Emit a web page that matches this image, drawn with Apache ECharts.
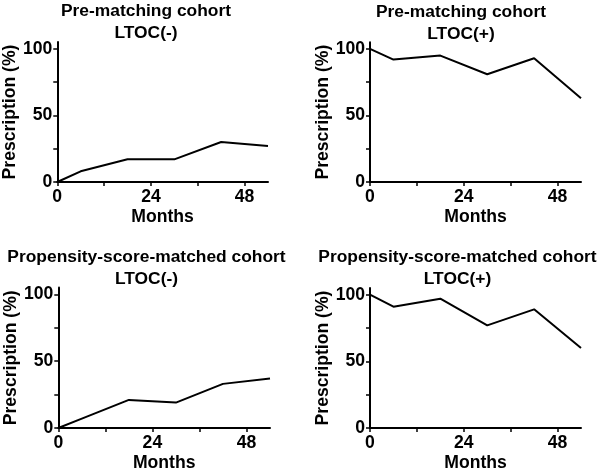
<!DOCTYPE html>
<html>
<head>
<meta charset="utf-8">
<script src="https://cdn.jsdelivr.net/npm/echarts@6/dist/echarts.min.js"></script>
<style>
html,body{margin:0;padding:0;background:#fff;}
#chart{width:600px;height:473px;}
</style>
</head>
<body>
<div id="chart"></div>
<script>
var months = [0, 6, 18, 30, 42, 54];
var preNeg = [0, 8, 17, 17, 30, 27];
var prePos = [100, 92, 95, 81, 93, 63];
var psmNeg = [0, 7, 21, 19, 33, 37];
var psmPos = [100, 91, 97, 77, 89, 60];

var panelTitles = [
  'Pre-matching cohort\nLTOC(-)',
  'Pre-matching cohort\nLTOC(+)',
  'Propensity-score-matched cohort\nLTOC(-)',
  'Propensity-score-matched cohort\nLTOC(+)'
];
var panelSeries = [preNeg, prePos, psmNeg, psmPos];
var xTicks = [0, 12, 24, 36, 48];
var xLabels = [0, 24, 48];
var yTicks = [0, 25, 50, 75, 100];
var yLabels = [0, 50, 100];
var xName = 'Months';
var yName = 'Prescription (%)';

var FONT = "'Liberation Sans', Arial, sans-serif";
var FS = 17.6;
var TFS = 17.4;

var grids = [
  {left: 57, top: 42, width: 211, height: 140},
  {left: 370, top: 42.3, width: 211, height: 139.7},
  {left: 58.3, top: 287.6, width: 211.7, height: 141.1},
  {left: 370, top: 288, width: 211, height: 141.3}
];
var titlePos = [
  {x: 146, y: 0},
  {x: 461, y: 1},
  {x: 146.5, y: 246.5},
  {x: 457.5, y: 246.5}
];

var option = {
  animation: false,
  backgroundColor: '#fff',
  title: panelTitles.map(function (t, i) {
    return {
      text: t,
      left: titlePos[i].x,
      top: titlePos[i].y,
      padding: 0,
      textAlign: 'center',
      textStyle: {fontFamily: FONT, fontWeight: 'bold', fontSize: TFS, lineHeight: 22, color: '#000'}
    };
  }),
  grid: grids,
  xAxis: grids.map(function (g, i) {
    return {
      type: 'value', gridIndex: i, min: 0, max: 54,
      name: xName, nameLocation: 'middle', nameGap: 26,
      nameTextStyle: {fontFamily: FONT, fontWeight: 'bold', fontSize: FS, color: '#000'},
      axisLine: {show: true, lineStyle: {color: '#000', width: 2}},
      axisTick: {show: true, length: 4, customValues: xTicks, lineStyle: {color: '#000', width: 1.5}},
      axisLabel: {customValues: xLabels, margin: 6, fontFamily: FONT, fontWeight: 'bold', fontSize: FS, color: '#000'},
      splitLine: {show: false}
    };
  }),
  yAxis: grids.map(function (g, i) {
    return {
      type: 'value', gridIndex: i, min: 0, max: 105,
      name: yName, nameLocation: 'middle', nameGap: 37,
      nameTextStyle: {fontFamily: FONT, fontWeight: 'bold', fontSize: FS, color: '#000'},
      axisLine: {show: true, onZero: false, lineStyle: {color: '#000', width: 2}},
      axisTick: {show: true, length: 4, customValues: yTicks, lineStyle: {color: '#000', width: 1.5}},
      axisLabel: {customValues: yLabels, margin: 5, fontFamily: FONT, fontWeight: 'bold', fontSize: FS, color: '#000'},
      splitLine: {show: false}
    };
  }),
  series: panelSeries.map(function (vals, i) {
    return {
      type: 'line', xAxisIndex: i, yAxisIndex: i,
      data: months.map(function (m, j) { return [m, vals[j]]; }),
      symbol: 'none', lineStyle: {color: '#000', width: 2}, z: 1
    };
  })
};

var chart = echarts.init(document.getElementById('chart'), null, {renderer: 'canvas'});
chart.setOption(option);
</script>
</body>
</html>
